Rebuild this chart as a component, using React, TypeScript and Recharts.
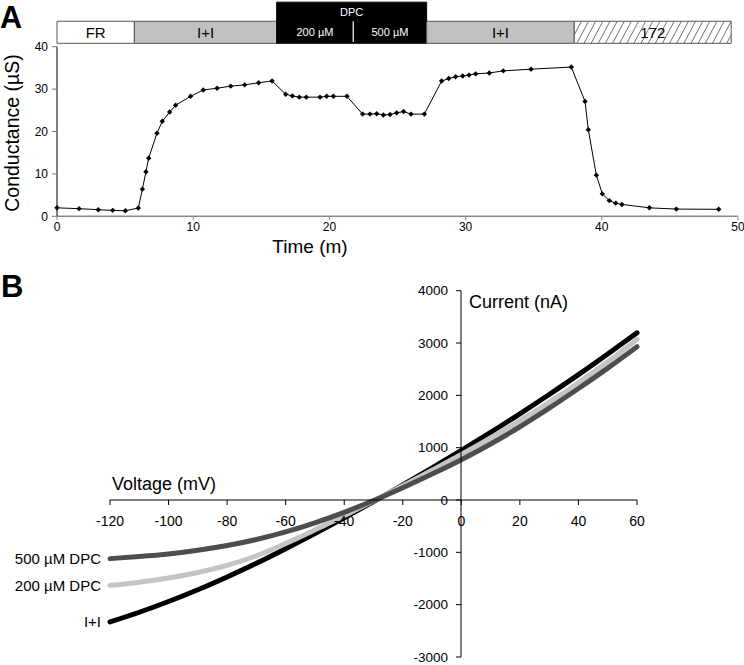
import React from 'react';
import { LineChart, Line, XAxis, YAxis, ReferenceArea, ReferenceLine } from 'recharts';

const FONT = '"Liberation Sans", Arial, Helvetica, sans-serif';

// ---- Panel A data ----
const timeMin = [0, 1.62, 3.03, 4.09, 5.02, 5.97, 6.27, 6.53, 6.73, 7.34, 7.73, 8.27, 8.71, 9.81, 10.74, 11.75, 12.75, 13.78, 14.81, 15.79, 16.79, 17.28, 17.79, 18.3, 19.31, 19.8, 20.29, 21.29, 22.44, 22.98, 23.47, 23.96, 24.45, 24.94, 25.45, 25.99, 26.97, 28.24, 28.76, 29.27, 29.79, 30.25, 30.74, 31.74, 32.77, 34.8, 37.76, 38.77, 39.01, 39.6, 40.04, 40.55, 41.02, 41.48, 43.49, 45.47, 48.58];
const conductance = [2.0, 1.8, 1.56, 1.4, 1.3, 1.96, 6.4, 10.5, 13.7, 19.6, 22.4, 24.6, 26.2, 28.3, 29.8, 30.2, 30.7, 31.0, 31.5, 31.9, 28.8, 28.4, 28.1, 28.1, 28.1, 28.3, 28.3, 28.3, 24.1, 24.1, 24.2, 23.9, 24.0, 24.4, 24.7, 24.1, 24.1, 31.9, 32.5, 32.9, 33.1, 33.3, 33.6, 33.8, 34.3, 34.7, 35.2, 27.1, 20.4, 9.7, 5.3, 3.7, 3.1, 2.8, 2.0, 1.7, 1.65];
const timeTicks = [0, 10, 20, 30, 40, 50];
const condTicks = [0, 10, 20, 30, 40];

// treatment bar (time in minutes)
const barStarts = [0, 5.68, 16.13, 21.75, 27.14, 37.98];
const barEnds = [5.68, 16.13, 21.75, 27.14, 37.98, 49.5];
const barLabels = ['FR', 'I+I', '200 µM', '500 µM', 'I+I', '172'];
const barKinds = ['white', 'gray', 'black', 'black', 'gray', 'hatch'];
const dpcLabel = 'DPC';

// ---- Panel B data ----
const voltage = [-120, -110, -100, -90, -80, -70, -60, -50, -40, -30, -20, -10, 0, 10, 20, 30, 40, 50, 60];
const iPlusI = [-2330, -2145, -1940, -1715, -1470, -1210, -930, -640, -340, -30, 288, 613, 948, 1293, 1648, 2016, 2396, 2791, 3196];
const dpc200 = [-1630, -1570, -1490, -1385, -1250, -1065, -830, -570, -300, -15, 275, 570, 870, 1185, 1515, 1865, 2240, 2640, 3070];
const dpc500 = [-1120, -1080, -1030, -960, -870, -755, -610, -435, -235, -10, 235, 495, 770, 1070, 1400, 1755, 2130, 2520, 2930];
const voltTicks = [-120, -100, -80, -60, -40, -20, 0, 20, 40, 60];
const currentTicks = [-3000, -2000, -1000, 0, 1000, 2000, 3000, 4000];
const seriesLabels = ['I+I', '200 µM DPC', '500 µM DPC'];

// layout constants for the treatment bar (in conductance units above the axis)
const BAR_Y0 = 40.8;
const BAR_Y1 = 46;
const DPC_Y2 = 50.5;

const dataA = timeMin.map((t, i) => ({ t, g: conductance[i] }));
const dataB = voltage.map((v, i) => ({ v, a: iPlusI[i], b: dpc200[i], c: dpc500[i] }));

const Diamond = (props: any) => {
  const { cx, cy } = props;
  if (cx == null || cy == null) return null;
  const s = 2.7;
  return <path d={`M${cx},${cy - s}L${cx + s},${cy}L${cx},${cy + s}L${cx - s},${cy}Z`} fill="#000" />;
};

const fillFor = (k: string) =>
  k === 'white' ? '#ffffff' : k === 'gray' ? '#c0c0c0' : k === 'black' ? '#000000' : 'url(#hatch)';

const endLabel = (text: string) => (props: any) => {
  const { x, y, index } = props;
  if (index !== 0) return null;
  return (
    <text key="lbl" x={x - 9} y={y} textAnchor="end" dominantBaseline="central" fontSize={15} fontFamily={FONT} fill="#000">
      {text}
    </text>
  );
};

const B_TOP = 20.7;
const B_BOTTOM = 8;

export default function App() {
  const abs = (left: number, top: number): React.CSSProperties => ({ position: 'absolute', left, top });
  return (
    <div style={{ position: 'absolute', left: 0, top: 0, width: 744, height: 665, background: '#fff', fontFamily: FONT }}>
      {/* Panel A */}
      <div style={abs(0, 0)}>
        <LineChart width={744} height={260} data={dataA} margin={{ top: 46.7, right: 6, bottom: 13.7, left: 0 }}>
          <defs>
            <pattern id="hatch" width="6.3" height="6.3" patternUnits="userSpaceOnUse" patternTransform="rotate(28)">
              <rect width="6.3" height="6.3" fill="#fff" />
              <line x1="0" y1="0" x2="0" y2="6.3" stroke="#000" strokeWidth="1" />
            </pattern>
          </defs>
          <XAxis
            type="number"
            dataKey="t"
            domain={[0, 50]}
            ticks={timeTicks}
            interval={0}
            height={30}
            tickSize={4}
            tickMargin={2}
            axisLine={{ stroke: '#8a8a8a', strokeWidth: 1.6 }}
            tickLine={{ stroke: '#8a8a8a' }}
            tick={{ fill: '#000', fontSize: 12, fontFamily: FONT }}
          />
          <YAxis
            type="number"
            dataKey="g"
            domain={[0, 40]}
            ticks={condTicks}
            interval={0}
            width={57}
            tickSize={5}
            tickMargin={4}
            axisLine={{ stroke: '#000' }}
            tickLine={{ stroke: '#777' }}
            tick={{ fill: '#000', fontSize: 12, fontFamily: FONT }}
          />
          {barStarts.map((s, i) => (
            <ReferenceArea
              key={'bar' + i}
              x1={s}
              x2={barEnds[i]}
              y1={BAR_Y0}
              y2={BAR_Y1}
              ifOverflow="visible"
              fill={fillFor(barKinds[i])}
              fillOpacity={1}
              stroke={barKinds[i] === 'black' ? '#000' : '#555'}
              strokeWidth={1}
              label={{
                value: barLabels[i],
                position: 'center',
                fill: barKinds[i] === 'black' ? '#fff' : '#000',
                fontSize: barKinds[i] === 'black' ? 11 : 15,
                fontFamily: FONT,
              }}
            />
          ))}
          <ReferenceArea
            x1={barStarts[2]}
            x2={barEnds[3]}
            y1={BAR_Y1}
            y2={DPC_Y2}
            ifOverflow="visible"
            fill="#000"
            fillOpacity={1}
            stroke="#000"
            label={{ value: dpcLabel, position: 'center', fill: '#fff', fontSize: 11, fontFamily: FONT }}
          />
          <ReferenceLine
            segment={[{ x: barEnds[2], y: BAR_Y0 + 0.3 }, { x: barEnds[2], y: BAR_Y1 }]}
            stroke="#fff"
            strokeWidth={1.2}
            ifOverflow="visible"
          />
          <Line
            type="linear"
            dataKey="g"
            stroke="#000"
            strokeWidth={1}
            dot={(p: any) => <Diamond key={'d' + p.index} {...p} />}
            isAnimationActive={false}
          />
        </LineChart>
      </div>

      {/* Panel B: curves */}
      <div style={abs(0, 270)}>
        <LineChart width={744} height={395} data={dataB} margin={{ top: B_TOP, right: 107, bottom: B_BOTTOM, left: 110 }}>
          <XAxis hide type="number" dataKey="v" domain={[-120, 60]} />
          <YAxis hide type="number" dataKey="a" domain={[-3000, 4000]} />
          <Line type="monotone" dataKey="a" stroke="#000000" strokeWidth={5} strokeLinecap="round" dot={false} label={endLabel(seriesLabels[0])} isAnimationActive={false} />
          <Line type="monotone" dataKey="b" stroke="#c4c4c4" strokeWidth={5} strokeLinecap="round" dot={false} label={endLabel(seriesLabels[1])} isAnimationActive={false} />
          <Line type="monotone" dataKey="c" stroke="#4d4d4d" strokeWidth={5} strokeLinecap="round" dot={false} label={endLabel(seriesLabels[2])} isAnimationActive={false} />
        </LineChart>
      </div>

      {/* Panel B: y axis crossing at 0 mV */}
      <div style={abs(0, 270)}>
        <LineChart width={744} height={395} data={dataB} margin={{ top: B_TOP, right: 100, bottom: B_BOTTOM, left: 401 }}>
          <XAxis hide type="number" dataKey="v" domain={[-120, 60]} />
          <YAxis
            type="number"
            dataKey="a"
            domain={[-3000, 4000]}
            ticks={currentTicks}
            interval={0}
            width={60}
            tickSize={5}
            tickMargin={8}
            axisLine={{ stroke: '#000' }}
            tickLine={{ stroke: '#000' }}
            tick={{ fill: '#000', fontSize: 13.5, fontFamily: FONT }}
          />
        </LineChart>
      </div>

      {/* Panel B: x axis line at 0 nA */}
      <div style={abs(0, 270)}>
        <LineChart width={744} height={395} data={dataB} margin={{ top: B_TOP, right: 107, bottom: B_BOTTOM, left: 110 }}>
          <XAxis hide type="number" dataKey="v" domain={[-120, 60]} />
          <YAxis hide type="number" dataKey="a" domain={[-3000, 4000]} />
          <ReferenceLine y={0} stroke="#000" strokeWidth={1} />
        </LineChart>
      </div>
      {/* Panel B: x ticks hanging from the 0 nA line */}
      <div style={abs(0, 270)}>
        <LineChart width={744} height={300} data={dataB} margin={{ top: 0, right: 107, bottom: 30, left: 110 }}>
          <XAxis
            type="number"
            dataKey="v"
            domain={[-120, 60]}
            ticks={voltTicks}
            interval={0}
            height={40}
            tickSize={5}
            tickMargin={11}
            axisLine={false}
            tickLine={{ stroke: '#000' }}
            tick={{ fill: '#000', fontSize: 14, fontFamily: FONT }}
          />
          <YAxis hide type="number" dataKey="a" domain={[-3000, 4000]} />
        </LineChart>
      </div>

      {/* Text overlay */}
      <svg width={744} height={665} style={{ position: 'absolute', left: 0, top: 0, pointerEvents: 'none' }} fontFamily={FONT}>
        <text x={0} y={28} fontSize={30.5} fontWeight="bold" fill="#000">A</text>
        <text x={1} y={296.5} fontSize={31} fontWeight="bold" fill="#000">B</text>
        <text transform="translate(11.5,133) rotate(-90)" textAnchor="middle" dominantBaseline="central" fontSize={19.5} fill="#000">Conductance (µS)</text>
        <text x={310} y={246} textAnchor="middle" dominantBaseline="central" fontSize={19} fill="#000">Time (m)</text>
        <text x={469} y={308} fontSize={18} fill="#000">Current (nA)</text>
        <text x={112} y={490} fontSize={18} fill="#000">Voltage (mV)</text>
      </svg>
    </div>
  );
}
